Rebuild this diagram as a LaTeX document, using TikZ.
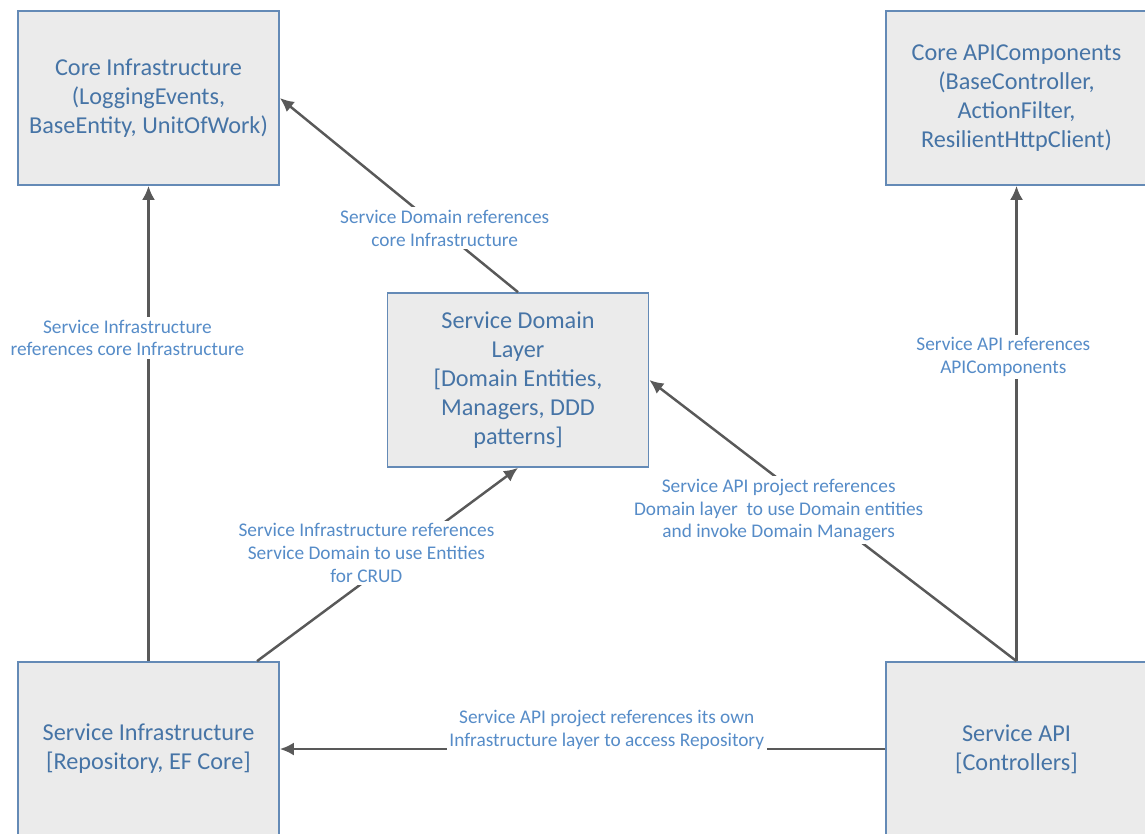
\documentclass[tikz,border=0pt]{standalone}
\usepackage{fontspec}
\setmainfont{Carlito}
\usetikzlibrary{positioning, arrows.meta, calc}
\definecolor{LayerBlue}{RGB}{100, 138, 182}
\definecolor{LayerText}{RGB}{70, 116, 166}
\definecolor{NoteBlue}{RGB}{86, 140, 200}
\definecolor{LayerGray}{RGB}{235, 235, 235}
\definecolor{RefGray}{RGB}{89, 89, 89}
\tikzset{
  layer/.style={rectangle, draw=LayerBlue, line width=1pt, fill=LayerGray,
    minimum width=5.22cm, minimum height=3.48cm, align=center, inner sep=2pt,
    text=LayerText, font=\fontsize{13.8}{16.6}\selectfont},
  note/.style={fill=white, align=center, inner sep=1.5pt, text=NoteBlue,
    font=\fontsize{11}{13}\selectfont},
  ref/.style={-{Latex[length=2.8mm, width=2.6mm]}, line width=1.4pt, RefGray},
}

\begin{document}
\begin{tikzpicture}[x=0.02cm, y=-0.02cm]
    \useasboundingbox (0,0) rectangle (1145,833);
    \clip (0,0) rectangle (1145,833);
    \node[layer] (ci) at (148.5,98) {Core Infrastructure\\(LoggingEvents,\\BaseEntity, UnitOfWork)};
    \node[layer] (capi) at (1016.5,98) {Core APIComponents\\(BaseController,\\ActionFilter,\\ResilientHttpClient)};
    \node[layer] (sd) at (518,380) {Service Domain\\Layer\\{[Domain Entities,}\\Managers, DDD\\patterns]};
    \node[layer] (si) at (148.5,749) {Service Infrastructure\\{[Repository, EF Core]}};
    \node[layer] (sa) at (1016.5,749) {Service API\\{[Controllers]}};

    \draw[ref] (si.north) -- (ci.south)
      node[note, pos=0.68, xshift=-12pt] {Service Infrastructure\\references core Infrastructure};
    \draw[ref] (sd.north) -- (ci.east)
      node[note, pos=0.33, xshift=3pt] {Service Domain references\\core Infrastructure};
    \draw[ref] (sa.north) -- (capi.south)
      node[note, pos=0.64, xshift=-7.5pt] {Service API references\\APIComponents};
    \draw[ref] (sa.north) -- (sd.east)
      node[note, pos=0.6, xshift=-10pt, yshift=-10pt] {Service API project references\\Domain layer\ \ to use Domain entities\\and invoke Domain Managers};
    \draw[ref] (si.39) -- (sd.south)
      node[note, pos=0.5, xshift=-12pt, yshift=6.5pt] {Service Infrastructure references\\Service Domain to use Entities\\for CRUD};
    \draw[ref] (sa.west) -- (si.east)
      node[note, pos=0.46, yshift=11pt] {Service API project references its own\\Infrastructure layer to access Repository};
\end{tikzpicture}
\end{document}
